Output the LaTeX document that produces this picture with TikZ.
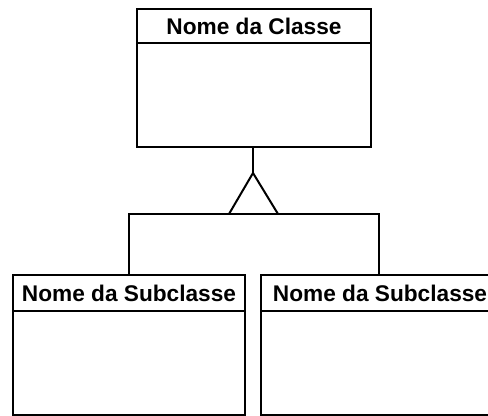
\documentclass[tikz,border=0pt]{standalone}
\usepackage{fontspec}
\setmainfont{Liberation Sans}
\begin{document}
\begin{tikzpicture}[x=0.75pt,y=-0.75pt,
  line width=1.5pt,
  hdr/.style={draw=black,inner sep=0pt,outer sep=0pt,minimum width=#1*0.75pt,minimum height=36*0.75pt,font=\fontsize{17pt}{20pt}\selectfont\bfseries,anchor=north west},
  bodybox/.style={draw=black,inner sep=0pt,outer sep=0pt,minimum width=#1*0.75pt,minimum height=104*0.75pt,anchor=north west}]
\useasboundingbox (0,0) rectangle (488,416);
\clip (0,0) rectangle (488,416);
% superclass
\node[hdr=234,minimum height=34*0.75pt] (ch) at (137,9) {Nome da Classe};
\node[bodybox=234] (cb) at (ch.south west) {};
% subclasses
\node[hdr=232] (s1h) at (13,275) {Nome da Subclasse};
\node[bodybox=232] (s1b) at (s1h.south west) {};
\node[hdr=238] (s2h) at (261,275) {Nome da Subclasse};
\node[bodybox=238] (s2b) at (s2h.south west) {};
% generalization
\coordinate (apex) at (253,173);
\coordinate (bl) at (229,214);
\coordinate (br) at (278,214);
\draw (cb.south -| apex) -- (apex);
\draw[line join=miter] (bl) -- (apex) -- (br);
\draw (s1h.north -| 129,0) |- (bl) -- (br) -| (s2h.north -| 379,0);
\end{tikzpicture}
\end{document}
